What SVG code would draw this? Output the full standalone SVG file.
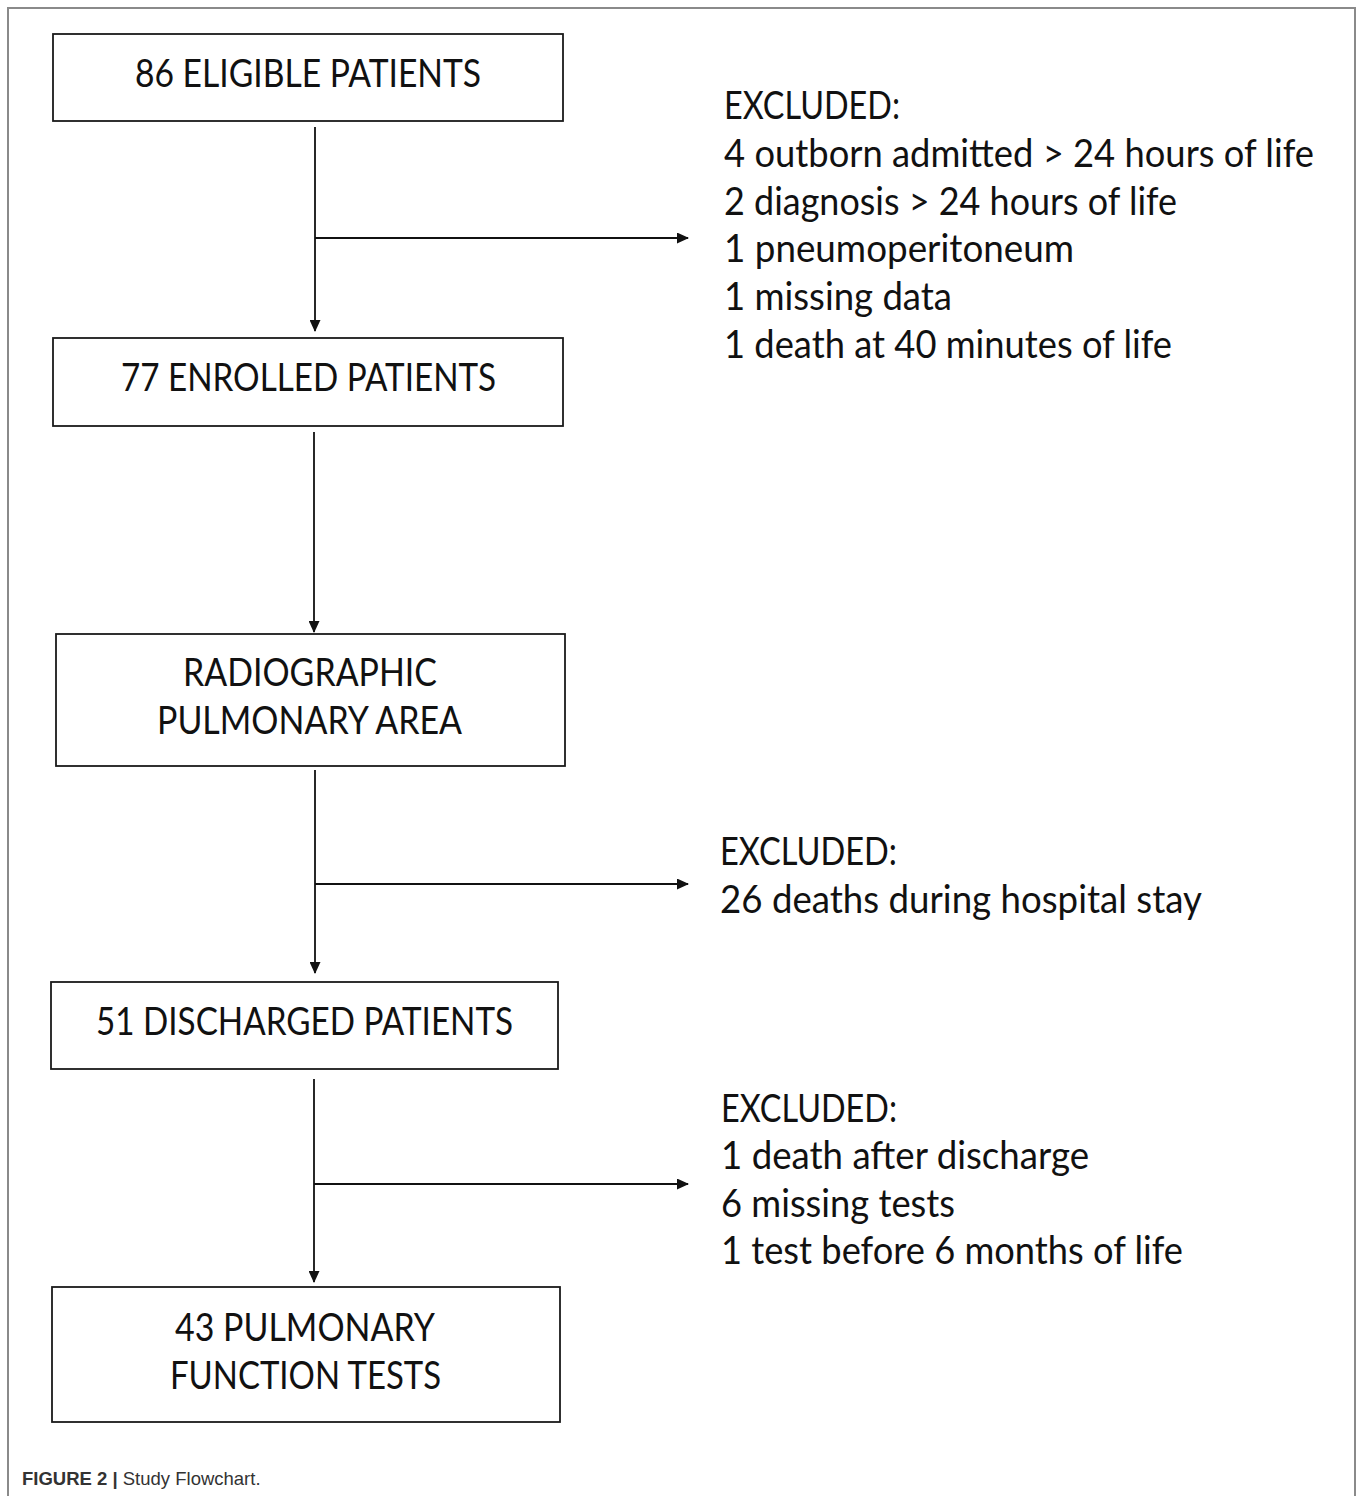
<svg xmlns="http://www.w3.org/2000/svg" width="1358" height="1496" viewBox="0 0 1358 1496">
<style>
.box{fill:#fff;stroke:#1a1a1a;stroke-width:1.8}
.t{font-family:Lato,"Open Sans","Liberation Sans",sans-serif;font-size:39px;fill:#111}
.ln{stroke:#111;stroke-width:1.8;fill:none}
.cap{font-family:"Liberation Sans",Arial,sans-serif;font-size:18.5px;fill:#333}
</style>
<defs>
<marker id="ah" markerWidth="12" markerHeight="11" refX="11" refY="5.5" orient="auto" markerUnits="userSpaceOnUse">
<path d="M0,0 L12,5.5 L0,11 Z" fill="#111"/>
</marker>
</defs>
<rect width="1358" height="1496" fill="#fff"/>
<path d="M8,1496 L8,8 L1355,8 L1355,1496" fill="none" stroke="#8a8a8a" stroke-width="2"/>

<g id="connectors">
<line class="ln" x1="315" y1="127" x2="315" y2="331" marker-end="url(#ah)"/>
<line class="ln" x1="315" y1="238" x2="688" y2="238" marker-end="url(#ah)"/>
<line class="ln" x1="314" y1="432" x2="314" y2="632" marker-end="url(#ah)"/>
<line class="ln" x1="315" y1="770" x2="315" y2="973" marker-end="url(#ah)"/>
<line class="ln" x1="315" y1="884" x2="688" y2="884" marker-end="url(#ah)"/>
<line class="ln" x1="314" y1="1079" x2="314" y2="1282" marker-end="url(#ah)"/>
<line class="ln" x1="314" y1="1184" x2="688" y2="1184" marker-end="url(#ah)"/>
</g>

<g id="n1">
<rect class="box" x="53" y="34" width="510" height="87"/>
<text class="t" x="135" y="87" textLength="346" lengthAdjust="spacingAndGlyphs">86 ELIGIBLE PATIENTS</text>
</g>
<g id="n2">
<rect class="box" x="53" y="338" width="510" height="88"/>
<text class="t" x="121" y="391" textLength="375" lengthAdjust="spacingAndGlyphs">77 ENROLLED PATIENTS</text>
</g>
<g id="n3">
<rect class="box" x="56" y="634" width="509" height="132"/>
<text class="t" x="183" y="686" textLength="254" lengthAdjust="spacingAndGlyphs">RADIOGRAPHIC</text>
<text class="t" x="157" y="734" textLength="305" lengthAdjust="spacingAndGlyphs">PULMONARY AREA</text>
</g>
<g id="n4">
<rect class="box" x="51" y="982" width="507" height="87"/>
<text class="t" x="96" y="1035" textLength="417" lengthAdjust="spacingAndGlyphs">51 DISCHARGED PATIENTS</text>
</g>
<g id="n5">
<rect class="box" x="52" y="1287" width="508" height="135"/>
<text class="t" x="175" y="1341" textLength="260" lengthAdjust="spacingAndGlyphs">43 PULMONARY</text>
<text class="t" x="170" y="1389" textLength="271" lengthAdjust="spacingAndGlyphs">FUNCTION TESTS</text>
</g>

<g id="ex1">
<text class="t" x="724" y="119" textLength="176" lengthAdjust="spacingAndGlyphs">EXCLUDED:</text>
<text class="t" x="724" y="167" textLength="590" lengthAdjust="spacingAndGlyphs">4 outborn admitted &gt; 24 hours of life</text>
<text class="t" x="724" y="215" textLength="453" lengthAdjust="spacingAndGlyphs">2 diagnosis &gt; 24 hours of life</text>
<text class="t" x="724" y="262" textLength="350" lengthAdjust="spacingAndGlyphs">1 pneumoperitoneum</text>
<text class="t" x="724" y="310" textLength="228" lengthAdjust="spacingAndGlyphs">1 missing data</text>
<text class="t" x="724" y="358" textLength="448" lengthAdjust="spacingAndGlyphs">1 death at 40 minutes of life</text>
</g>
<g id="ex2">
<text class="t" x="720" y="865" textLength="177" lengthAdjust="spacingAndGlyphs">EXCLUDED:</text>
<text class="t" x="720" y="913" textLength="482" lengthAdjust="spacingAndGlyphs">26 deaths during hospital stay</text>
</g>
<g id="ex3">
<text class="t" x="721" y="1122" textLength="176" lengthAdjust="spacingAndGlyphs">EXCLUDED:</text>
<text class="t" x="721" y="1169" textLength="368" lengthAdjust="spacingAndGlyphs">1 death after discharge</text>
<text class="t" x="721" y="1217" textLength="234" lengthAdjust="spacingAndGlyphs">6 missing tests</text>
<text class="t" x="721" y="1264" textLength="462" lengthAdjust="spacingAndGlyphs">1 test before 6 months of life</text>
</g>

<text class="cap" x="22" y="1485"><tspan font-weight="bold">FIGURE 2 |</tspan> Study Flowchart.</text>
</svg>
